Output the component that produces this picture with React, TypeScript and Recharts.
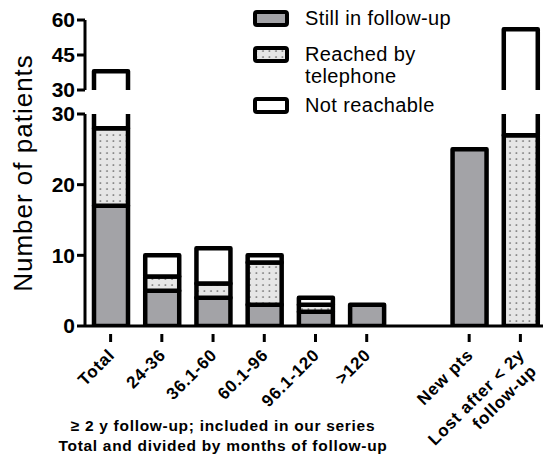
import React from 'react';
import { BarChart, Bar, XAxis, YAxis } from 'recharts';

const categories = ['Total', '24-36', '36.1-60', '60.1-96', '96.1-120', '>120', '', 'New pts', 'Lost after < 2y\nfollow-up'];
const stillInFollowUp = [17, 5, 4, 3, 2, 3, 0, 25, 0];
const reachedByTelephone = [11, 2, 2, 6, 1, 0, 0, 0, 27];
const notReachable = [10, 3, 5, 1, 1, 0, 0, 0, 29];
const seriesNames = ['Still in follow-up', 'Reached by\ntelephone', 'Not reachable'];
const lowerTicks = [0, 10, 20, 30];
const upperTicks = [30, 45, 60];
const lowerDomain: [number, number] = [0, 30];
const upperDomain: [number, number] = [30, 60];
const footnote = ['\u2265 2 y follow-up; included in our series', 'Total and divided by months of follow-up'];
const yLabel = 'Number of patients';

const data = categories.map((name, i) => ({
  name,
  still: stillInFollowUp[i],
  phone: reachedByTelephone[i],
  none: notReachable[i],
}));
const stackKeys = ['still', 'phone', 'none'];

const W = 546;
const H = 455;
const LOWER_TOP = 114;
const LOWER_BOTTOM = 326;
const UPPER_TOP = 20;
const UPPER_BOTTOM = 90;
const FONT = '"Liberation Sans", Arial, sans-serif';
const GRAY = '#a3a3a7';
const SW = 4.5;

const XTick = (props: any) => {
  const { x, y, payload } = props;
  const label = String(payload.value ?? '');
  if (!label) return null;
  const lines = label.split('\n');
  const style = { fontFamily: FONT, fontWeight: 'bold' as const, fontSize: 17, letterSpacing: 0.8, fill: '#000' };
  return (
    <g transform={`translate(${x},${y})`}>
      <line x1={0} y1={0} x2={0} y2={8} stroke="#000" strokeWidth={3} />
      <g transform="translate(5,22) rotate(-45)">
        <text x={0} y={0} textAnchor="end" style={style}>{lines[0]}</text>
        {lines[1] ? (
          <text x={-44} y={20} textAnchor="middle" style={style}>{lines[1]}</text>
        ) : null}
      </g>
    </g>
  );
};

const yTickStyle = { fill: '#000', fontSize: 21, fontWeight: 'bold', fontFamily: FONT };

const Pattern = ({ id }: { id: string }) => (
  <defs>
    <pattern id={id} width="6.5" height="6" patternUnits="userSpaceOnUse">
      <rect width="6.5" height="6" fill="#e6e6e6" />
      <circle cx="3" cy="3" r="0.85" fill="#5a5a5a" />
    </pattern>
  </defs>
);

const makeShape = (key: string, domain: [number, number], top: number, bottom: number, fill: string) => (props: any) => {
  const { x, y, width, height, payload } = props;
  const idx = stackKeys.indexOf(key);
  let lo = 0;
  for (let k = 0; k < idx; k++) lo += Number(payload[stackKeys[k]]) || 0;
  const hi = lo + (Number(payload[key]) || 0);
  if (!(hi - lo > 0) || hi <= domain[0] || lo >= domain[1] || !width) return null;
  const y1 = Math.max(Math.min(y, y + height), top);
  const y2 = Math.min(Math.max(y, y + height), bottom);
  if (y2 <= y1) return null;
  const x1 = x;
  const x2 = x + width;
  const hasTop = hi <= domain[1];
  const hasBottom = lo >= domain[0];
  let d: string;
  if (hasTop && hasBottom) d = `M${x1},${y1} L${x2},${y1} L${x2},${y2} L${x1},${y2} Z`;
  else if (hasTop) d = `M${x1},${y2} L${x1},${y1} L${x2},${y1} L${x2},${y2}`;
  else if (hasBottom) d = `M${x1},${y1} L${x1},${y2} L${x2},${y2} L${x2},${y1}`;
  else d = `M${x1},${y1} L${x1},${y2} M${x2},${y1} L${x2},${y2}`;
  return (
    <g>
      <rect x={x1} y={y1} width={width} height={y2 - y1} fill={fill} />
      <path d={d} fill="none" stroke="#000" strokeWidth={SW} strokeLinejoin="round" />
    </g>
  );
};

const bars = (patId: string, domain: [number, number], top: number, bottom: number) => {
  const fills = [GRAY, `url(#${patId})`, '#fff'];
  return stackKeys.map((key, i) => (
    <Bar key={key} dataKey={key} stackId="a" fill={fills[i]} barSize={34} isAnimationActive={false}
      shape={makeShape(key, domain, top, bottom, fills[i])} />
  ));
};

const legendFills = [GRAY, 'url(#dotsLegend)', '#fff'];
const legendBoxY = [12, 48, 99];

export default function App() {
  return (
    <div style={{ position: 'absolute', left: 0, top: 0, width: 543, height: 455, overflow: 'hidden', background: '#fff' }}>
      <div style={{ position: 'absolute', left: 0, top: 0 }}>
        <BarChart width={W} height={H} data={data} margin={{ top: LOWER_TOP, right: 0, bottom: 0, left: 0 }}>
          <Pattern id="dotsLower" />
          <XAxis
            dataKey="name"
            interval={0}
            height={H - LOWER_BOTTOM}
            tickLine={false}
            axisLine={{ stroke: '#000', strokeWidth: 3 }}
            tick={<XTick />}
          />
          <YAxis
            width={85}
            domain={lowerDomain}
            ticks={lowerTicks}
            interval={0}
            allowDataOverflow
            tickSize={8}
            axisLine={{ stroke: '#000', strokeWidth: 3 }}
            tickLine={{ stroke: '#000', strokeWidth: 3 }}
            tick={yTickStyle}
          />
          {bars('dotsLower', lowerDomain, LOWER_TOP, LOWER_BOTTOM)}
        </BarChart>
      </div>
      <div style={{ position: 'absolute', left: 0, top: 0 }}>
        <BarChart width={W} height={H} data={data} margin={{ top: UPPER_TOP, right: 0, bottom: H - UPPER_BOTTOM, left: 0 }}>
          <Pattern id="dotsUpper" />
          <XAxis dataKey="name" hide />
          <YAxis
            width={85}
            domain={upperDomain}
            ticks={upperTicks}
            interval={0}
            allowDataOverflow
            tickSize={8}
            axisLine={{ stroke: '#000', strokeWidth: 3 }}
            tickLine={{ stroke: '#000', strokeWidth: 3 }}
            tick={yTickStyle}
          />
          {bars('dotsUpper', upperDomain, UPPER_TOP, UPPER_BOTTOM)}
        </BarChart>
      </div>
      <svg width={543} height={455} style={{ position: 'absolute', left: 0, top: 0, pointerEvents: 'none' }}>
        <Pattern id="dotsLegend" />
        <text
          transform="translate(32,173) rotate(-90)"
          textAnchor="middle"
          style={{ fontFamily: FONT, fontSize: 26, letterSpacing: 1, fill: '#000' }}
        >
          {yLabel}
        </text>
        {seriesNames.map((name, i) => {
          const lines = name.split('\n');
          return (
            <g key={name}>
              <rect x={255} y={legendBoxY[i]} width={32} height={13} rx={2} fill={legendFills[i]} stroke="#000" strokeWidth={4} />
              {lines.map((ln, j) => (
                <text key={ln} x={305} y={legendBoxY[i] + 13 + j * 22} style={{ fontFamily: FONT, fontSize: 20, letterSpacing: 0.4, fill: '#000' }}>
                  {ln}
                </text>
              ))}
            </g>
          );
        })}
        {footnote.map((ln, i) => (
          <text
            key={ln}
            x={223}
            y={431 + i * 20}
            textAnchor="middle"
            style={{ fontFamily: FONT, fontSize: 15.5, fontWeight: 'bold', letterSpacing: 0.7, fill: '#000' }}
          >
            {ln}
          </text>
        ))}
      </svg>
    </div>
  );
}
